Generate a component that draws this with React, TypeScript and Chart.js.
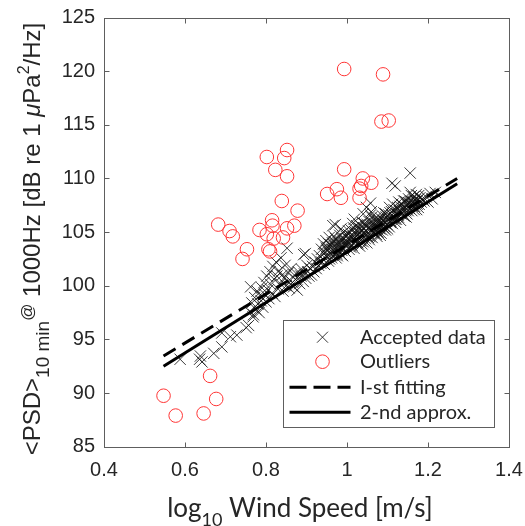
import React, { useEffect, useRef } from "react";
import { Chart, registerables } from "chart.js";

Chart.register(...registerables);

const xTicks = [0.4, 0.6, 0.8, 1, 1.2, 1.4];
const yTicks = [85, 90, 95, 100, 105, 110, 115, 120, 125];

const legendLabels = ["Accepted data", "Outliers", "I-st fitting", "2-nd approx."];
const xTitleParts = ["log", "10", " Wind Speed [m/s]"];
const yTitleParts = ["<PSD>", "10 min", "@", " 1000Hz [dB re 1 ", "\u03bc", "Pa", "2", "/Hz", "]"];

const acceptedData: [number, number][] = [
  [0.588, 93.15], [0.636, 93.15], [0.642, 92.9], [0.638, 93.45], [0.671, 93.7], [0.691, 94.3],
  [0.712, 95.25], [0.728, 95.4], [0.751, 96.1], [0.757, 96.3], [0.769, 97.3], [0.691, 95.6],
  [0.760, 97.6], [0.765, 98.4], [0.768, 97.1], [0.772, 98.9], [0.775, 97.8], [0.778, 99.5],
  [0.780, 98.3], [0.783, 97.5], [0.785, 99.1], [0.788, 98.6], [0.790, 99.8], [0.792, 98.0],
  [0.795, 100.3], [0.797, 99.2], [0.800, 98.5], [0.762, 99.9],
  [0.802, 100.9], [0.805, 99.6], [0.807, 98.8], [0.810, 101.3], [0.812, 100.1], [0.815, 99.3],
  [0.817, 101.8], [0.820, 100.6], [0.822, 99.0], [0.825, 102.2], [0.827, 100.9], [0.830, 99.7],
  [0.832, 101.4], [0.835, 100.2], [0.837, 102.6], [0.840, 101.0], [0.842, 99.5], [0.845, 100.7],
  [0.847, 101.9], [0.850, 100.0], [0.852, 103.5], [0.855, 101.2], [0.857, 99.8], [0.860, 100.5],
  [0.862, 101.6], [0.865, 100.3], [0.868, 99.9], [0.870, 101.0], [0.873, 100.6], [0.877, 99.6],
  [0.880, 101.3], [0.883, 100.2], [0.886, 100.9], [0.889, 101.5], [0.892, 100.4], [0.893, 102.9],
  [0.895, 101.1], [0.897, 103.0], [0.898, 100.7], [0.901, 101.9], [0.903, 101.3], [0.906, 100.9],
  [0.909, 101.6], [0.912, 101.0], [0.915, 101.8], [0.918, 101.3], [0.921, 102.2], [0.924, 101.6],
  [0.927, 102.5], [0.930, 101.9],
  [0.932, 102.8], [0.935, 102.1], [0.937, 103.4], [0.940, 102.5], [0.942, 103.9], [0.944, 102.0],
  [0.946, 103.1], [0.948, 104.2], [0.950, 102.7], [0.952, 103.6], [0.954, 102.3], [0.956, 104.5],
  [0.958, 103.0], [0.960, 103.8], [0.962, 102.6], [0.964, 104.0], [0.966, 103.3], [0.967, 103.8],
  [0.969, 102.9], [0.971, 105.7], [0.972, 104.4], [0.974, 103.5], [0.976, 102.8], [0.978, 104.1],
  [0.980, 103.2], [0.982, 104.7], [0.984, 103.6], [0.986, 102.9], [0.988, 104.3], [0.990, 103.5],
  [0.992, 105.0], [0.994, 104.0], [0.996, 103.2], [0.998, 104.6],
  [0.951, 103.3], [0.957, 102.5], [0.963, 103.4], [0.970, 104.1], [0.975, 103.0], [0.981, 103.9],
  [0.987, 103.3], [0.993, 104.4], [0.997, 103.7], [0.965, 105.6], [0.985, 105.3],
  [0.938, 102.2], [0.943, 103.0], [0.949, 103.5], [0.955, 103.9], [0.961, 102.9], [0.968, 104.6],
  [0.973, 102.6], [0.979, 103.6], [0.983, 104.2], [0.989, 102.8], [0.995, 103.9], [0.999, 104.1],
  [1.000, 103.9], [1.003, 104.8], [1.005, 103.4], [1.008, 104.3], [1.010, 105.2], [1.012, 103.8],
  [1.015, 104.6], [1.017, 103.5], [1.020, 105.0], [1.022, 104.2], [1.024, 105.6], [1.027, 104.0],
  [1.029, 104.9], [1.031, 103.7], [1.033, 105.3], [1.036, 104.5], [1.038, 105.9], [1.040, 104.1],
  [1.042, 105.0], [1.045, 104.4], [1.047, 105.5], [1.049, 104.0], [1.052, 104.9], [1.054, 106.0],
  [1.056, 104.6], [1.058, 107.7], [1.058, 106.6], [1.060, 105.2], [1.062, 104.5], [1.064, 105.8],
  [1.066, 104.9], [1.068, 105.4], [1.070, 106.3], [1.072, 104.8], [1.075, 105.6], [1.077, 105.0],
  [1.079, 106.1], [1.081, 105.3], [1.084, 104.9], [1.086, 105.9], [1.088, 106.5], [1.090, 105.4],
  [1.092, 106.0], [1.095, 105.2], [1.097, 106.4], [1.099, 105.7],
  [1.001, 104.4], [1.006, 103.9], [1.011, 104.6], [1.016, 105.4], [1.021, 104.1], [1.026, 104.7],
  [1.030, 105.7], [1.034, 104.2], [1.039, 104.8], [1.043, 105.8], [1.048, 105.1], [1.053, 104.5],
  [1.057, 105.3], [1.061, 106.4], [1.065, 105.0], [1.069, 105.7], [1.073, 105.1], [1.076, 106.2],
  [1.080, 105.6], [1.083, 106.3], [1.087, 105.2], [1.091, 106.8], [1.094, 105.8], [1.098, 106.0],
  [1.040, 106.7], [1.048, 107.3], [1.060, 106.9], [1.018, 106.2],
  [1.004, 105.1], [1.009, 103.6], [1.014, 105.8], [1.019, 104.5], [1.025, 103.9], [1.028, 105.4],
  [1.032, 104.9], [1.037, 103.9], [1.041, 105.4], [1.046, 104.7], [1.050, 105.7], [1.055, 104.3],
  [1.059, 105.6], [1.063, 105.1], [1.067, 106.1], [1.071, 105.5], [1.074, 104.6], [1.078, 105.9],
  [1.082, 104.7], [1.085, 105.6], [1.089, 106.1], [1.093, 105.5], [1.096, 106.7], [1.100, 105.3],
  [1.101, 106.2], [1.104, 105.5], [1.106, 106.8], [1.108, 106.0], [1.111, 109.55], [1.112, 105.8],
  [1.114, 106.5], [1.116, 107.1], [1.118, 106.2], [1.119, 109.3], [1.120, 105.9], [1.123, 106.7],
  [1.125, 107.3], [1.127, 106.4], [1.130, 107.0], [1.132, 106.1], [1.134, 107.6], [1.136, 106.8],
  [1.139, 107.2], [1.141, 106.5], [1.143, 107.9], [1.145, 107.0], [1.148, 106.7], [1.150, 107.5],
  [1.152, 108.1], [1.154, 107.2], [1.156, 110.5], [1.156, 108.7], [1.158, 107.6], [1.160, 107.0],
  [1.163, 107.8], [1.165, 108.3], [1.167, 107.4], [1.170, 107.9], [1.172, 107.1], [1.175, 108.0],
  [1.178, 107.6], [1.180, 108.2], [1.183, 107.8], [1.186, 108.1], [1.190, 107.9],
  [1.103, 106.6], [1.107, 105.9], [1.110, 106.9], [1.115, 106.3], [1.121, 107.0], [1.126, 106.6],
  [1.131, 107.4], [1.137, 107.0], [1.142, 107.4], [1.147, 107.8], [1.151, 107.0], [1.157, 107.9],
  [1.162, 107.4], [1.168, 108.0], [1.173, 107.6], [1.177, 108.4],
  [1.105, 107.3], [1.113, 107.6], [1.122, 106.2], [1.128, 107.8], [1.133, 106.7], [1.140, 107.9],
  [1.146, 106.4], [1.153, 107.7], [1.159, 108.4], [1.166, 107.1], [1.171, 108.5], [1.176, 107.3],
  [1.195, 108.3], [1.200, 107.8], [1.205, 108.6], [1.210, 108.1], [1.218, 108.7],
];

const outlierData: [number, number][] = [
  [0.993, 120.2], [1.089, 119.7], [1.085, 115.3], [1.103, 115.4],
  [0.852, 112.65], [0.802, 112.0], [0.845, 111.9], [0.823, 110.8], [0.852, 110.2], [0.993, 110.85],
  [0.839, 107.9], [0.878, 107.0], [0.975, 109.0], [0.951, 108.55], [0.985, 108.2],
  [1.039, 110.0], [1.060, 109.6], [1.035, 109.3], [1.031, 109.05], [1.031, 108.2],
  [0.682, 105.7], [0.710, 105.1], [0.718, 104.6], [0.753, 103.4], [0.742, 102.5],
  [0.815, 106.1], [0.816, 105.6], [0.784, 105.2], [0.802, 104.8], [0.819, 104.4], [0.842, 104.5],
  [0.852, 105.35], [0.870, 105.6], [0.806, 103.4], [0.810, 103.2],
  [0.662, 91.6], [0.547, 89.75], [0.577, 87.9], [0.646, 88.1], [0.677, 89.45],
];

const firstFitX = [0.547, 1.272];
const firstFitY = [93.45, 110.0];
const secondFitX = [0.547, 1.272];
const secondFitY = [92.5, 109.5];

const TEXT = "#262626";
const AXIS = "#5e5e5e";
const RED = "#ff3535";
const SANS = "'Liberation Sans', Arial, sans-serif";
const TITLE = "Lato, 'DejaVu Sans', sans-serif";

const overlay = {
  id: "overlay",
  afterDraw(chart: any) {
    const ctx: CanvasRenderingContext2D = chart.ctx;
    const { left, right, top, bottom } = chart.chartArea;
    const xs = chart.scales.x;
    const ys = chart.scales.y;
    ctx.save();
    ctx.strokeStyle = AXIS;
    ctx.lineWidth = 1;
    const L = Math.round(left) + 0.5, R = Math.round(right) + 0.5;
    const T = Math.round(top) + 0.5, B = Math.round(bottom) + 0.5;
    ctx.strokeRect(L, T, R - L, B - T);
    ctx.beginPath();
    for (const v of xTicks) {
      const p = Math.round(xs.getPixelForValue(v)) + 0.5;
      ctx.moveTo(p, B); ctx.lineTo(p, B - 5);
      ctx.moveTo(p, T); ctx.lineTo(p, T + 5);
    }
    for (const v of yTicks) {
      const p = Math.round(ys.getPixelForValue(v)) + 0.5;
      ctx.moveTo(L, p); ctx.lineTo(L + 5, p);
      ctx.moveTo(R, p); ctx.lineTo(R - 5, p);
    }
    ctx.stroke();

    // x title
    ctx.fillStyle = TEXT;
    ctx.textBaseline = "alphabetic";
    ctx.textAlign = "left";
    const mainX = `26px ${TITLE}`;
    const subX = `18px ${TITLE}`;
    ctx.font = mainX; const w0 = ctx.measureText(xTitleParts[0]).width;
    ctx.font = subX; const w1 = ctx.measureText(xTitleParts[1]).width;
    ctx.font = mainX; const w2 = ctx.measureText(xTitleParts[2]).width;
    let cx = 300 - (w0 + w1 + w2) / 2;
    const baseX = 517;
    ctx.font = mainX; ctx.fillText(xTitleParts[0], cx, baseX); cx += w0;
    ctx.font = subX; ctx.fillText(xTitleParts[1], cx, baseX + 9); cx += w1;
    ctx.font = mainX; ctx.fillText(xTitleParts[2], cx, baseX);

    // y title (rotated)
    const M = 24;
    const ySpec = [
      { f: `${M}px ${SANS}`, dv: 0 },
      { f: `${Math.round(M * 0.78)}px ${SANS}`, dv: 9 },
      { f: `${Math.round(M * 0.72)}px ${SANS}`, dv: -7 },
      { f: `${M}px ${SANS}`, dv: 0 },
      { f: `italic ${M}px ${SANS}`, dv: 0 },
      { f: `${M}px ${SANS}`, dv: 0 },
      { f: `${Math.round(M * 0.68)}px ${SANS}`, dv: -11 },
      { f: `${M}px ${SANS}`, dv: 0 },
      { f: `${M}px ${SANS}`, dv: 0 },
    ];
    const widths = yTitleParts.map((t, i) => { ctx.font = ySpec[i].f; return ctx.measureText(t).width; });
    const total = widths.reduce((a, b) => a + b, 0);
    ctx.save();
    ctx.translate(40, 239);
    ctx.rotate(-Math.PI / 2);
    let u = -total / 2;
    yTitleParts.forEach((t, i) => {
      ctx.font = ySpec[i].f;
      ctx.fillText(t, u, ySpec[i].dv);
      u += widths[i];
    });
    ctx.restore();

    // legend
    const lx1 = right - 15, ly2 = bottom - 20;
    const lx0 = lx1 - 211, ly0 = ly2 - 107;
    ctx.fillStyle = "#ffffff";
    ctx.fillRect(lx0, ly0, lx1 - lx0, ly2 - ly0);
    ctx.strokeStyle = AXIS;
    ctx.lineWidth = 1;
    ctx.strokeRect(Math.round(lx0) + 0.5, Math.round(ly0) + 0.5, Math.round(lx1 - lx0), Math.round(ly2 - ly0));
    const rowY = [17.5, 42, 67.5, 92.5].map((d) => ly0 + d);
    const symX = lx0 + 39.5;
    const lineA = lx0 + 6.5, lineB = lx0 + 67.5;
    const textX = lx0 + 77;
    ctx.strokeStyle = "rgba(20,20,20,0.85)";
    ctx.lineWidth = 1;
    ctx.beginPath();
    ctx.moveTo(symX - 5.5, rowY[0] - 5.5); ctx.lineTo(symX + 5.5, rowY[0] + 5.5);
    ctx.moveTo(symX - 5.5, rowY[0] + 5.5); ctx.lineTo(symX + 5.5, rowY[0] - 5.5);
    ctx.stroke();
    ctx.strokeStyle = RED;
    ctx.beginPath();
    ctx.arc(symX, rowY[1], 6.8, 0, Math.PI * 2);
    ctx.stroke();
    ctx.strokeStyle = "#000";
    ctx.lineWidth = 3;
    ctx.setLineDash([17, 7]);
    ctx.beginPath(); ctx.moveTo(lineA, rowY[2]); ctx.lineTo(lineB, rowY[2]); ctx.stroke();
    ctx.setLineDash([]);
    ctx.beginPath(); ctx.moveTo(lineA, rowY[3]); ctx.lineTo(lineB, rowY[3]); ctx.stroke();
    ctx.fillStyle = TEXT;
    ctx.font = `20px ${TITLE}`;
    ctx.textBaseline = "middle";
    legendLabels.forEach((t, i) => ctx.fillText(t, textX, rowY[i]));
    ctx.restore();
  },
};

export default function App() {
  const ref = useRef<HTMLCanvasElement | null>(null);
  useEffect(() => {
    if (!ref.current) return;
    const tickFmt = (v: any) => String(Math.round(Number(v) * 10) / 10);
    const chart = new Chart(ref.current, {
      type: "scatter",
      data: {
        datasets: [
          {
            type: "line",
            label: legendLabels[2],
            data: firstFitX.map((x, i) => ({ x, y: firstFitY[i] })),
            borderColor: "#000",
            borderWidth: 3,
            borderDash: [14, 8],
            pointRadius: 0,
            fill: false,
            order: 0,
          },
          {
            type: "line",
            label: legendLabels[3],
            data: secondFitX.map((x, i) => ({ x, y: secondFitY[i] })),
            borderColor: "#000",
            borderWidth: 3,
            pointRadius: 0,
            fill: false,
            order: 0,
          },
          {
            label: legendLabels[1],
            data: outlierData.map(([x, y]) => ({ x, y })),
            pointStyle: "circle",
            pointRadius: 6.8,
            borderColor: RED,
            backgroundColor: "rgba(0,0,0,0)",
            borderWidth: 1,
            order: 1,
          },
          {
            label: legendLabels[0],
            data: acceptedData.map(([x, y]) => ({ x, y })),
            pointStyle: "crossRot",
            pointRadius: 8,
            borderColor: "rgba(15,15,15,0.82)",
            borderWidth: 1,
            order: 2,
          },
        ] as any,
      },
      options: {
        animation: false,
        responsive: true,
        maintainAspectRatio: false,
        events: [],
        layout: { padding: { left: 0, right: 16, top: 17.5, bottom: 0 } },
        plugins: { legend: { display: false }, tooltip: { enabled: false } },
        scales: {
          x: {
            type: "linear",
            min: 0.4,
            max: 1.4,
            grid: { display: false, drawTicks: false },
            border: { display: false },
            ticks: { color: TEXT, font: { family: SANS, size: 20 }, padding: 12, callback: tickFmt },
            afterBuildTicks: (s: any) => { s.ticks = xTicks.map((value) => ({ value })); },
            afterFit: (s: any) => { s.height = 79.3; s.paddingLeft = 0; s.paddingRight = 0; },
          },
          y: {
            type: "linear",
            min: 85,
            max: 125,
            grid: { display: false, drawTicks: false },
            border: { display: false },
            ticks: { color: TEXT, font: { family: SANS, size: 20 }, padding: 9, callback: tickFmt },
            afterBuildTicks: (s: any) => { s.ticks = yTicks.map((value) => ({ value })); },
            afterFit: (s: any) => { s.width = 104; s.paddingTop = 0; s.paddingBottom = 0; },
          },
        },
      } as any,
      plugins: [overlay],
    });
    return () => chart.destroy();
  }, []);
  return (
    <div style={{ position: "absolute", left: 0, top: 0, width: 525, height: 526, background: "#fff" }}>
      <canvas ref={ref} />
    </div>
  );
}
